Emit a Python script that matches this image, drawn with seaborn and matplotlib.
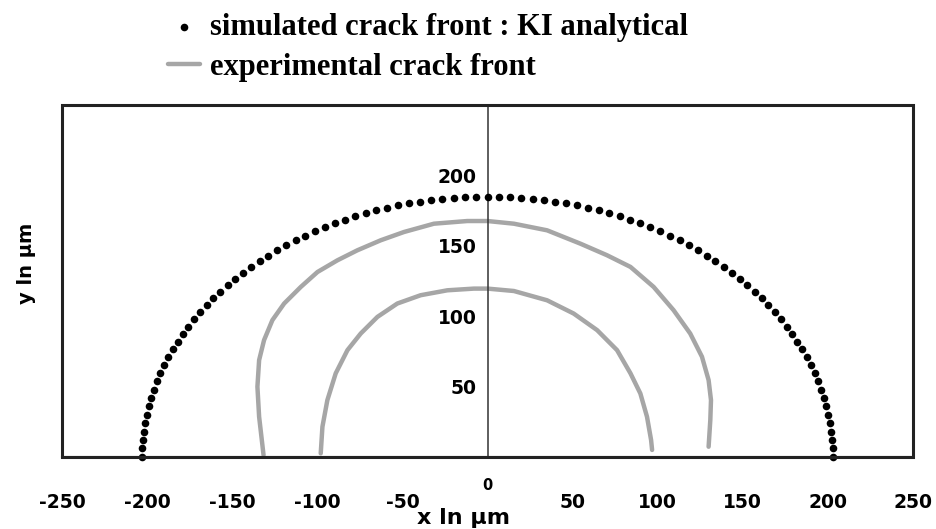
import matplotlib
matplotlib.use("Agg")
import matplotlib.pyplot as plt
import seaborn as sns
import pandas as pd
from matplotlib.patches import Rectangle
from matplotlib.font_manager import FontProperties

# ---------------- data ----------------
sim_x = [203.0, 202.9, 202.6, 202.0, 201.3, 200.3, 199.1, 197.7, 196.1, 194.3, 192.2, 190.0,
         187.5, 184.9, 182.1, 179.0, 175.8, 172.4, 168.8, 165.0, 161.1, 156.9, 152.6, 148.2,
         143.5, 138.8, 133.8, 128.8, 123.6, 118.2, 112.8, 107.2, 101.5, 95.7, 89.8, 83.8,
         77.7, 71.5, 65.3, 58.9, 52.5, 46.1, 39.6, 33.1, 26.5, 19.9, 13.3, 6.6, 0.0,
         -6.6, -13.3, -19.9, -26.5, -33.1, -39.6, -46.1, -52.5, -58.9, -65.3, -71.5, -77.7,
         -83.8, -89.8, -95.7, -101.5, -107.2, -112.8, -118.2, -123.6, -128.8, -133.8, -138.8,
         -143.5, -148.2, -152.6, -156.9, -161.1, -165.0, -168.8, -172.4, -175.8, -179.0,
         -182.1, -184.9, -187.5, -190.0, -192.2, -194.3, -196.1, -197.7, -199.1, -200.3,
         -201.3, -202.0, -202.6, -202.9, -203.0]
sim_y = [0.0, 6.1, 12.1, 18.1, 24.1, 30.1, 36.1, 42.0, 47.9, 53.7, 59.5, 65.2, 70.8, 76.4,
         81.8, 87.2, 92.5, 97.7, 102.8, 107.8, 112.6, 117.4, 122.0, 126.5, 130.8, 135.0,
         139.1, 143.0, 146.8, 150.4, 153.8, 157.1, 160.2, 163.2, 165.9, 168.5, 170.9, 173.1,
         175.2, 177.0, 178.7, 180.2, 181.4, 182.5, 183.4, 184.1, 184.6, 184.9, 185.0,
         184.9, 184.6, 184.1, 183.4, 182.5, 181.4, 180.2, 178.7, 177.0, 175.2, 173.1, 170.9,
         168.5, 165.9, 163.2, 160.2, 157.1, 153.8, 150.4, 146.8, 143.0, 139.1, 135.0, 130.8,
         126.5, 122.0, 117.4, 112.6, 107.8, 102.8, 97.7, 92.5, 87.2, 81.8, 76.4, 70.8, 65.2,
         59.5, 53.7, 47.9, 42.0, 36.1, 30.1, 24.1, 18.1, 12.1, 6.1, 0.0]

outer_x = [-131.6, -134.2, -135.2, -134.2, -131.3, -126.4, -119.5, -109.7, -99.9, -88.2,
           -76.5, -62.8, -49.1, -31.5, -11.9, 0.0, 15.5, 35.0, 54.6, 70.2, 84.0, 97.6,
           109.3, 119.1, 126.0, 129.9, 131.3, 130.9, 129.9]
outer_y = [1.4, 28.6, 49.9, 68.8, 83.0, 97.2, 109.0, 120.8, 131.4, 139.7, 146.8, 153.9,
           159.8, 165.7, 167.6, 167.6, 165.7, 161.0, 151.5, 143.3, 135.0, 120.8, 104.3,
           87.7, 71.2, 54.6, 40.4, 26.2, 7.3]

inner_x = [-98.0, -97.0, -94.1, -89.2, -82.3, -74.5, -64.7, -53.0, -39.3, -23.6, -8.0, 0.0,
           15.5, 35.0, 50.6, 64.4, 76.1, 84.0, 89.8, 93.7, 96.1, 96.7]
inner_y = [2.6, 21.5, 40.4, 59.4, 75.9, 87.7, 99.5, 109.0, 114.9, 118.4, 119.6, 119.6,
           117.9, 111.3, 101.9, 90.1, 75.9, 59.4, 45.1, 28.6, 12.1, 5.0]

x_ticks = [-250, -200, -150, -100, -50, 0, 50, 100, 150, 200, 250]
x_tick_labels = ["-250", "-200", "-150", "-100", "-50", "0", "50", "100", "150", "200", "250"]
y_ticks = [50, 100, 150, 200]
y_tick_labels = ["50", "100", "150", "200"]

label_sim = "simulated crack front : KI analytical"
label_exp = "experimental crack front"

# ---------------- plot ----------------
sns.set_style("white")
plt.rcParams["font.family"] = ["DejaVu Sans"]
plt.rcParams["text.color"] = "black"

fig = plt.figure(figsize=(9.37, 5.29), dpi=100)
ax = fig.add_axes([0.0662, 0.1361, 0.9082, 0.6654])

sim_df = pd.DataFrame({"x": sim_x, "y": sim_y})
exp_df = pd.concat([
    pd.DataFrame({"x": outer_x, "y": outer_y, "front": "outer"}),
    pd.DataFrame({"x": inner_x, "y": inner_y, "front": "inner"}),
], ignore_index=True)

sns.lineplot(data=exp_df, x="x", y="y", units="front", estimator=None, sort=False,
             color="#a6a6a6", linewidth=3.2, ax=ax, legend=False)
sns.scatterplot(data=sim_df, x="x", y="y", color="black", s=30, linewidth=0,
                clip_on=False, ax=ax, legend=False, zorder=3)

ax.spines["left"].set_position(("data", 0))
ax.spines["left"].set_linewidth(1.1)
ax.spines["left"].set_color("#333333")
ax.spines["top"].set_visible(False)
ax.spines["right"].set_visible(False)
ax.spines["bottom"].set_linewidth(1.5)
ax.spines["bottom"].set_color("#222222")
ax.add_patch(Rectangle((0, 0), 1, 1, transform=ax.transAxes, fill=False,
                       lw=2.2, ec="#222222", clip_on=False, zorder=5))

ax.set_xlim(-250, 250)
ax.set_ylim(0, 250)
ax.set_xticks(x_ticks, labels=x_tick_labels, fontweight="bold", fontsize=13.5, color="black")
ax.set_yticks(y_ticks, labels=y_tick_labels, fontweight="bold", fontsize=13.5, color="black")

ax.tick_params(axis="x", direction="out", length=6, width=1.2, pad=20, color="#222222")
ax.tick_params(axis="y", direction="out", length=6, width=1.1, pad=2, color="#222222")

for tick in ax.xaxis.get_major_ticks():
    if tick.get_loc() == 0:
        tick.label1.set_fontsize(10.5)
        tick.set_pad(9)

ax.set_xlabel("x ln µm", fontsize=16, fontweight="bold", color="black")
ax.xaxis.set_label_coords(0.472, -0.145)
ax.set_ylabel("y ln µm", fontsize=14, fontweight="bold", color="black")
ax.yaxis.set_label_coords(-0.03, 0.551)

handles = [ax.collections[0], ax.lines[0]]
leg = fig.legend(handles, [label_sim, label_exp], loc="upper left",
                 bbox_to_anchor=(168 / 937, 1 - 13 / 529), frameon=False,
                 prop=FontProperties(family="Liberation Serif", weight="bold", size=22),
                 handlelength=1.05, handletextpad=0.33, labelspacing=0.35,
                 borderpad=0, borderaxespad=0, scatterpoints=1)
for t in leg.get_texts():
    t.set_color("black")

fig.savefig("out.png", dpi=100)
